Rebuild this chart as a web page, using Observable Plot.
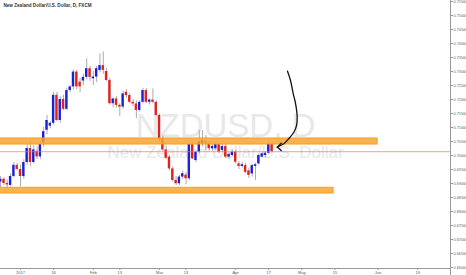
<!DOCTYPE html>
<html><head><meta charset="utf-8">
<script src="https://cdn.jsdelivr.net/npm/d3@7"></script>
<script src="https://cdn.jsdelivr.net/npm/@observablehq/plot@0.6"></script>
<style>body{margin:0;background:#fff;overflow:hidden}</style>
</head><body><div id="chart"></div>
<script>
// Daily candles, NZDUSD, from 2016-12-23 (index 0 = first trading day shown)
const startDate = "2016-12-23";
const opens  = [.6905,.6915,.6900,.6893,.6925,.6965,.6950,.6925,.6975,.7025,.6975,.7015,.6995,.7045,.7090,.7105,.7115,.7215,.7125,.7200,.7165,.7232,.7245,.7298,.7262,.7266,.7279,.7310,.7274,.7280,.7304,.7321,.7300,.7268,.7185,.7202,.7179,.7173,.7226,.7214,.7190,.7184,.7161,.7190,.7232,.7190,.7198,.7190,.7143,.7060,.7020,.6994,.6952,.6911,.6899,.6923,.6930,.6917,.7039,.6982,.7012,.7042,.7050,.7042,.7024,.7024,.7039,.7018,.7032,.6994,.7000,.7012,.6970,.6961,.6964,.6945,.6934,.6961,.6970,.6994,.7000,.7008,.7040];
const highs  = [.6925,.6920,.6912,.6935,.6975,.6972,.6965,.6985,.7040,.7050,.7035,.7030,.7050,.7100,.7143,.7120,.7225,.7225,.7210,.7215,.7240,.7250,.7305,.7305,.7275,.7290,.7345,.7318,.7300,.7318,.7363,.7370,.7310,.7275,.7205,.7210,.7185,.7230,.7235,.7222,.7200,.7195,.7195,.7240,.7240,.7203,.7238,.7195,.7148,.7070,.7035,.7000,.6960,.6925,.6930,.6945,.6940,.7045,.7050,.7015,.7089,.7089,.7072,.7050,.7040,.7048,.7045,.7038,.7040,.7010,.7020,.7020,.6978,.6975,.6972,.6955,.6968,.6972,.7005,.7012,.7015,.7048,.7046];
const lows   = [.6885,.6893,.6880,.6888,.6920,.6945,.6888,.6915,.6965,.6960,.6970,.6985,.6985,.7030,.7075,.7095,.7110,.7120,.7115,.7160,.7160,.7225,.7235,.7235,.7225,.7250,.7270,.7265,.7250,.7260,.7295,.7290,.7265,.7180,.7170,.7170,.7140,.7165,.7205,.7185,.7175,.7131,.7155,.7185,.7185,.7180,.7185,.7140,.7050,.7015,.6985,.6945,.6905,.6893,.6893,.6915,.6895,.6910,.6985,.6975,.7005,.7030,.7018,.7015,.7015,.7018,.7005,.7010,.6988,.6985,.6995,.6970,.6950,.6955,.6935,.6918,.6923,.6911,.6965,.6990,.6990,.7002,.7010];
const closes = [.6915,.6900,.6895,.6925,.6965,.6950,.6925,.6975,.7025,.6975,.7020,.6995,.7040,.7085,.7125,.7115,.7215,.7125,.7200,.7165,.7232,.7245,.7298,.7245,.7245,.7279,.7310,.7279,.7280,.7310,.7321,.7304,.7268,.7185,.7202,.7179,.7173,.7220,.7214,.7190,.7184,.7161,.7190,.7232,.7190,.7198,.7190,.7143,.7060,.7020,.6990,.6952,.6911,.6899,.6923,.6935,.6917,.7039,.6988,.7012,.7048,.7054,.7045,.7024,.7032,.7039,.7012,.7032,.6994,.7004,.7012,.6976,.6961,.6967,.6940,.6929,.6964,.6967,.7000,.7006,.7008,.7040,.7014];

const tickDates  = ["2017-01-02","2017-01-16","2017-02-01","2017-02-13","2017-03-01","2017-03-13","2017-04-03","2017-04-17","2017-05-01","2017-05-15","2017-06-01","2017-06-19"];
const tickLabels = ["2017","16","Feb","13","Mar","13","Apr","17","May","15","Jun","19"];
const priceTicks = [0.660,0.665,0.670,0.675,0.680,0.685,0.690,0.695,0.700,0.705,0.710,0.715,0.720,0.725,0.730,0.735,0.740,0.745,0.750,0.755];

// hand-drawn zones (price bands) and their right end (bar index)
const zoneLow  = [0.7039, 0.6864];
const zoneHigh = [0.7061, 0.6885];
const zoneEnd  = [113.9, 100.6];

// hand-drawn arrow (bar index, price)
const arrowIdx   = [86.66, 87.57, 88.38, 89.08, 89.59, 89.38, 88.57, 87.05, 85.54, 83.55];
const arrowPrice = [0.7301, 0.7268, 0.7221, 0.7186, 0.7137, 0.7107, 0.7083, 0.7060, 0.7042, 0.7030];
const headIdx    = [84.76, 83.55, 84.76];
const headPrice  = [0.7044, 0.7030, 0.7018];

const title = "New Zealand Dollar/U.S. Dollar, D, FXCM";
const font = "'Liberation Sans', Arial, sans-serif";

// trading-day index of a date (weekdays from start)
function tradingIndex(ds) {
  const days = d3.utcDay.range(new Date(startDate), new Date(ds));
  return days.filter(d => d.getUTCDay() !== 0 && d.getUTCDay() !== 6).length;
}
const tickIdx = tickDates.map(tradingIndex);
const labelMap = new Map(tickIdx.map((d, i) => [d, tickLabels[i]]));

const candles = opens.map((o, i) => ({i, o, h: highs[i], l: lows[i], c: closes[i]}));
const zones = zoneLow.map((lo, k) => ({lo, hi: zoneHigh[k], end: zoneEnd[k]}));
const arrow = arrowIdx.map((x, k) => ({x, y: arrowPrice[k]}));
const head = headIdx.map((x, k) => ({x, y: headPrice[k]}));
const last = closes[closes.length - 1];

const xDom = [-0.045, 135.9];
const yDom = [0.65964, 0.75536];

const chart = Plot.plot({
  width: 466, height: 275,
  marginLeft: 0, marginRight: 16, marginTop: 0, marginBottom: 7,
  style: {fontFamily: font, background: "#fff"},
  x: {domain: xDom, axis: null},
  y: {domain: yDom, axis: null},
  marks: [
    Plot.text(["NZDUSD, D"], {frameAnchor: "middle", dy: -8, fontSize: 33, fill: "#e8e8e8", fontFamily: font}),
    Plot.text(["New Zealand Dollar/U.S. Dollar"], {frameAnchor: "middle", dy: 18, fontSize: 17, fill: "#e8e8e8", fontFamily: font}),
    Plot.ruleX(candles, {x: "i", y1: "l", y2: "h", stroke: "#ababab", strokeWidth: 1}),
    Plot.rect(candles, {
      x1: d => d.i - 0.36, x2: d => d.i + 0.36,
      y1: d => Math.min(d.o, d.c), y2: d => Math.max(d.o, d.c) + (Math.abs(d.o - d.c) < 0.0002 ? 0.0002 : 0),
      fill: d => d.c >= d.o ? "#1c1fd8" : "#e3201b"
    }),
    Plot.ruleY([last], {x1: xDom[0], x2: xDom[1], stroke: "#ef6f6f", strokeOpacity: 0.55, strokeWidth: 1.2}),
    Plot.rect(zones, {x1: -1, x2: "end", y1: "lo", y2: "hi", fill: "#f9a52e", fillOpacity: 0.85, stroke: "#f39a1a", strokeWidth: 0.8}),
    Plot.line(arrow, {x: "x", y: "y", curve: "catmull-rom", stroke: "#111", strokeWidth: 1.3}),
    Plot.line(head, {x: "x", y: "y", stroke: "#111", strokeWidth: 1.3}),
    Plot.ruleY([yDom[0]], {x1: xDom[0], x2: xDom[1], stroke: "#9a9a9a", strokeWidth: 1}),
    Plot.ruleX([xDom[1]], {y1: yDom[0] - 0.003, y2: yDom[1], stroke: "#9a9a9a", strokeWidth: 1}),
    Plot.axisY(priceTicks, {anchor: "right", tickSize: 2, tickPadding: 1, fontSize: 3.8, fill: "#666", stroke: "#999", tickFormat: d3.format(".5f")}),
    Plot.axisX(tickIdx, {anchor: "bottom", tickSize: 2, tickPadding: 0.5, fontSize: 4, fill: "#555", stroke: "#999", tickFormat: d => labelMap.get(d)}),
    Plot.text([title], {frameAnchor: "top-left", dx: 3, dy: 3, fontSize: 4.6, fontWeight: "bold", fill: "#333", textAnchor: "start", lineAnchor: "top", fontFamily: font})
  ]
});
document.getElementById("chart").appendChild(chart);
</script>
</body></html>
